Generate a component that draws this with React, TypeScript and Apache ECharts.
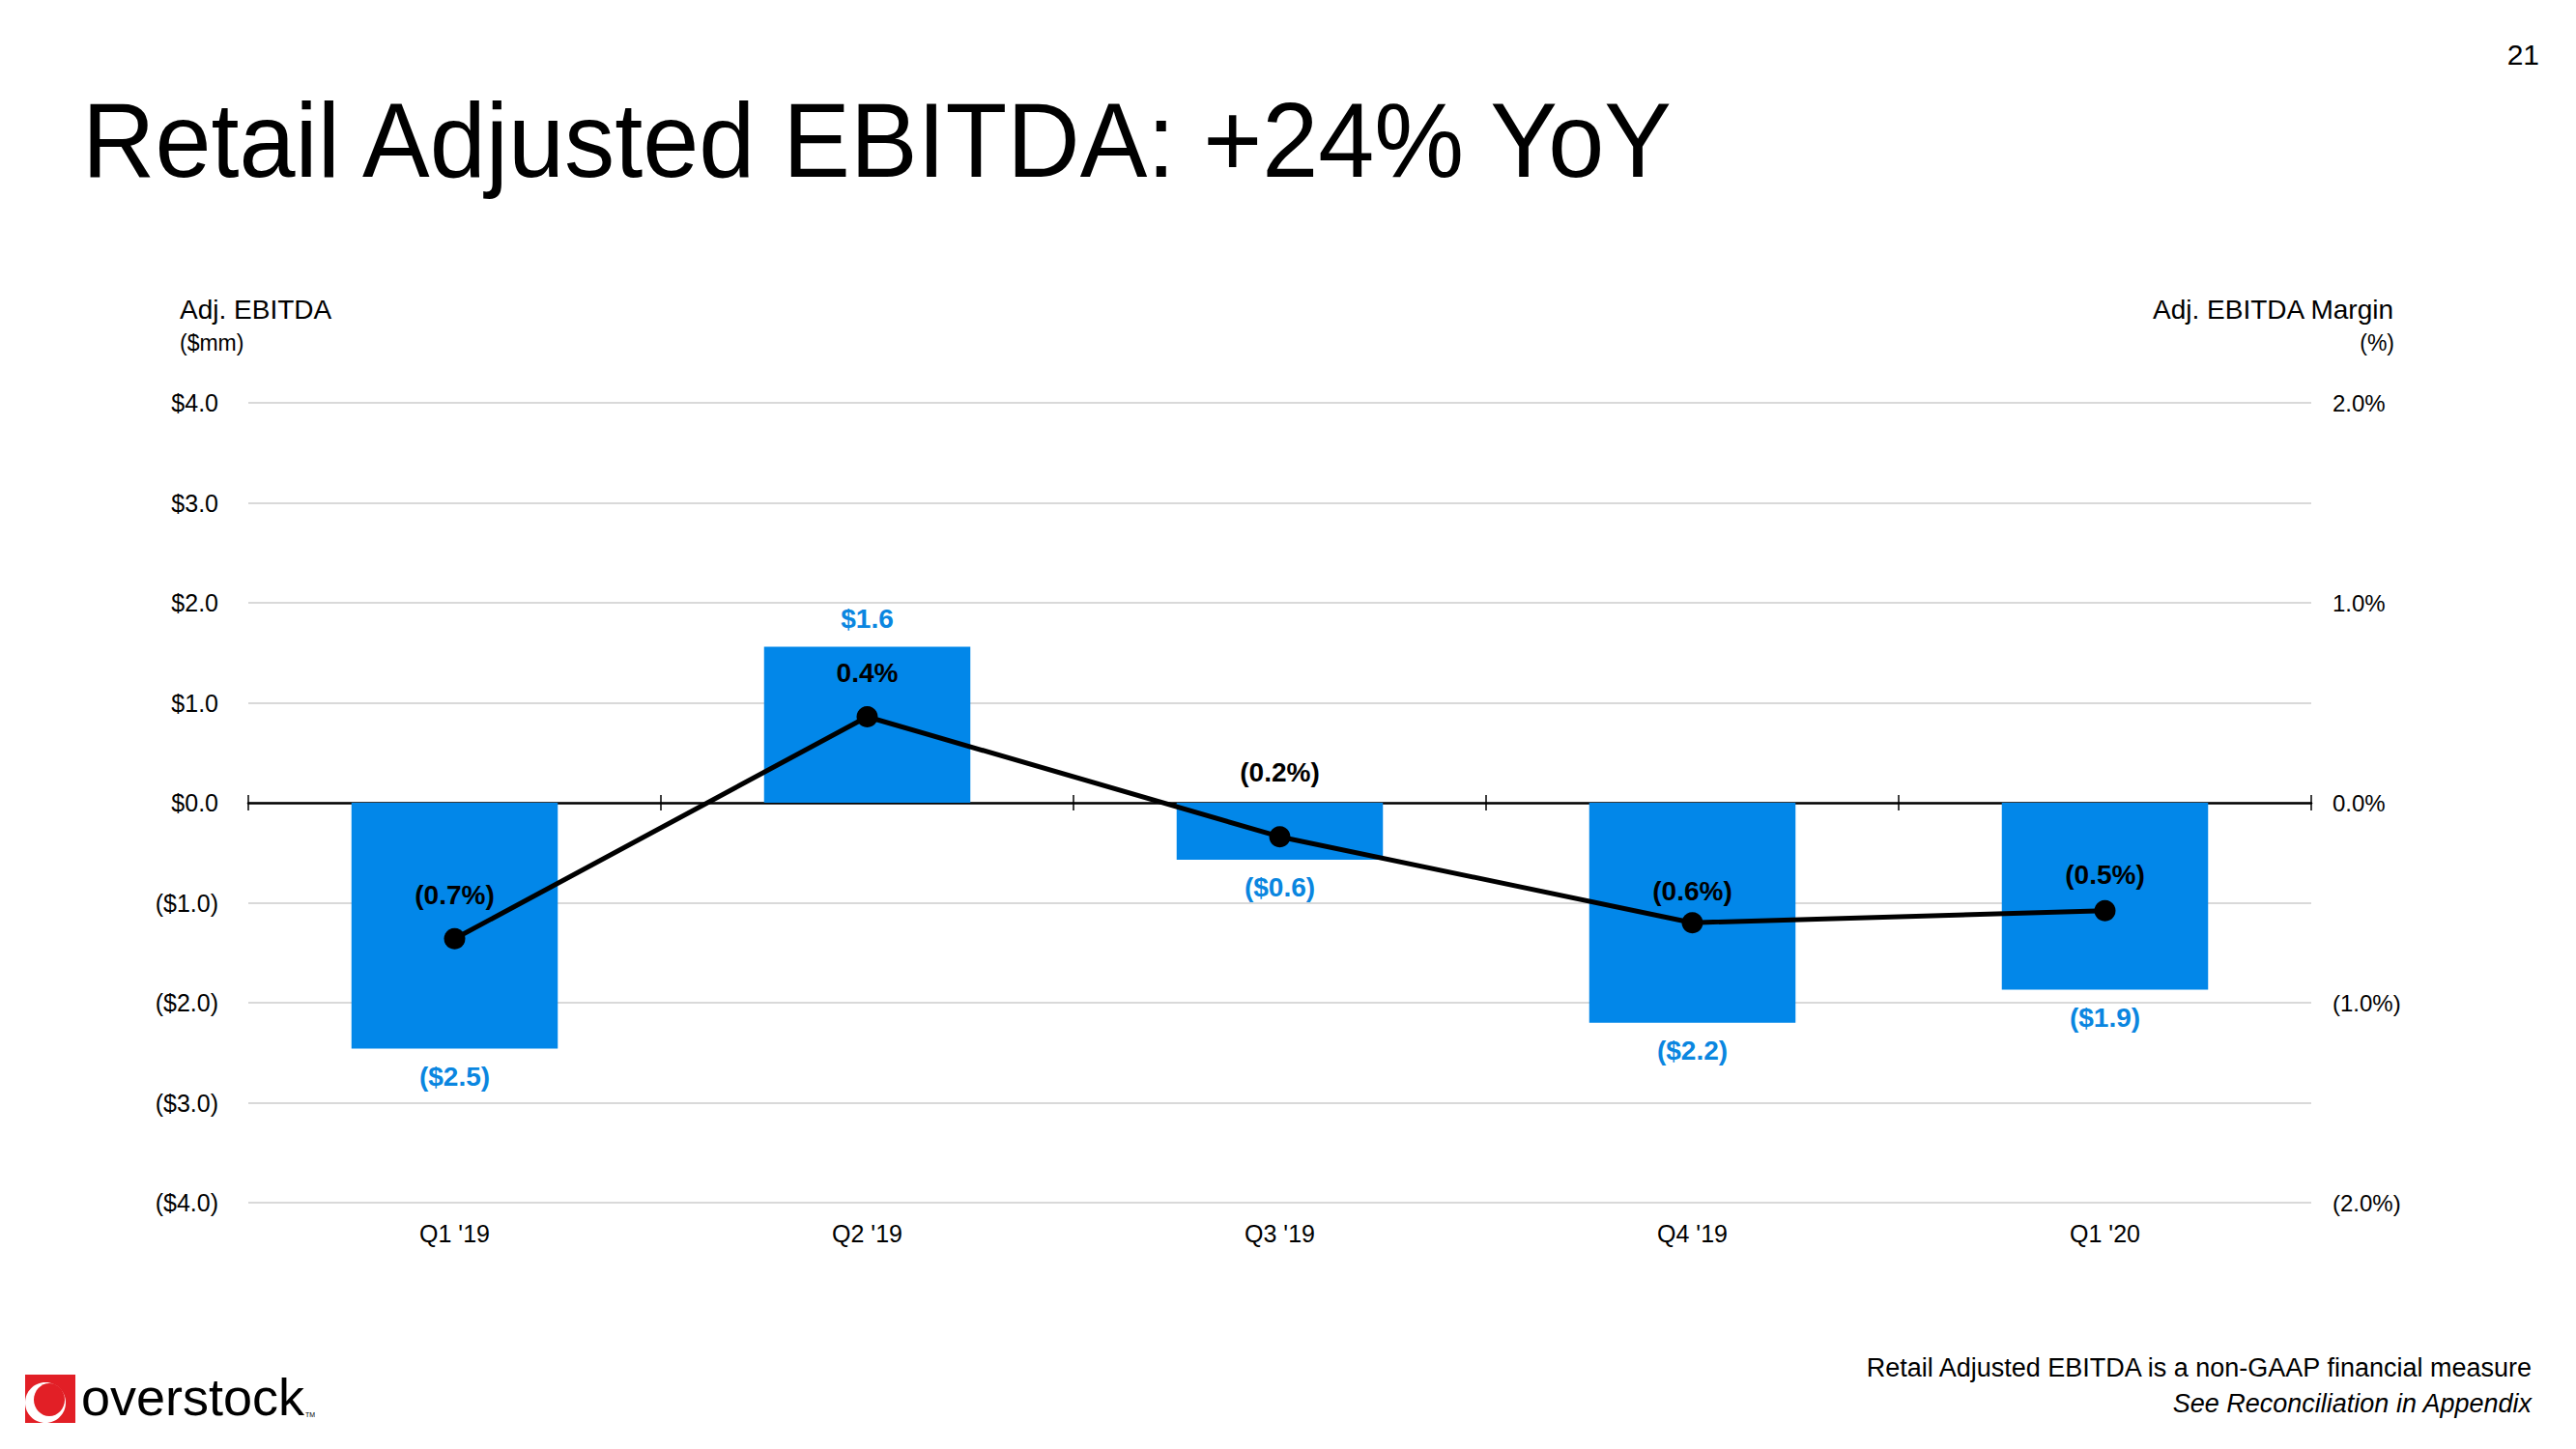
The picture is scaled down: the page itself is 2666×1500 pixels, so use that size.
import React, { useEffect, useRef } from "react";
import * as echarts from "echarts";

const categories = ["Q1 '19", "Q2 '19", "Q3 '19", "Q4 '19", "Q1 '20"];
const ebitda = [-2.46, 1.56, -0.57, -2.2, -1.87];
const marginPct = [-0.68, 0.43, -0.17, -0.6, -0.54];
const leftAxis = { min: -4, max: 4, interval: 1 };
const rightAxis = { min: -2, max: 2, interval: 1 };
// label gap above each margin point (styling only)
const marginLabelGap = [20, 20, 42, 8, 12];

const FONT = "Liberation Sans";
const BLUE = "#0287E9";

const fmtDollar = (v: number) =>
  v < 0 ? `($${(-v).toFixed(1)})` : `$${v.toFixed(1)}`;
const fmtPct = (v: number) =>
  v < 0 ? `(${(-v).toFixed(1)}%)` : `${v.toFixed(1)}%`;

export default function App() {
  const ref = useRef<HTMLDivElement>(null);
  useEffect(() => {
    if (!ref.current) return;
    const chart = echarts.init(ref.current, undefined, { renderer: "svg" });
    const option: any = {
      animation: false,
      backgroundColor: "#ffffff",
      textStyle: { fontFamily: FONT },
      grid: { left: 257, right: 274, top: 417, bottom: 255, containLabel: false, outerBoundsMode: "none" },
      xAxis: [
        {
          type: "category",
          data: categories,
          position: "bottom",
          axisLine: { onZero: true, lineStyle: { color: "#000", width: 2.5 } },
          axisTick: { show: true, length: 8, lineStyle: { color: "#000", width: 1.5 } },
          axisLabel: { margin: 19, fontSize: 25, color: "#000", fontFamily: FONT },
        },
        {
          type: "category",
          data: categories,
          position: "top",
          axisLine: { show: false, onZero: true },
          axisTick: { show: true, length: 8, lineStyle: { color: "#000", width: 1.5 } },
          axisLabel: { show: false },
        },
      ],
      yAxis: [
        {
          type: "value",
          min: leftAxis.min,
          max: leftAxis.max,
          interval: leftAxis.interval,
          axisLine: { show: false },
          axisTick: { show: false },
          splitLine: { lineStyle: { color: "#d9d9d9", width: 2 } },
          axisLabel: { formatter: fmtDollar, margin: 31, fontSize: 25, color: "#000", fontFamily: FONT },
        },
        {
          type: "value",
          position: "right",
          min: rightAxis.min,
          max: rightAxis.max,
          interval: rightAxis.interval,
          axisLine: { show: false },
          axisTick: { show: false },
          splitLine: { show: false },
          axisLabel: { formatter: fmtPct, margin: 22, fontSize: 24, color: "#000", fontFamily: FONT },
        },
      ],
      series: [
        {
          type: "bar",
          xAxisIndex: 0,
          yAxisIndex: 0,
          barWidth: "50%",
          data: ebitda.map((v) => ({ value: v, label: { position: v >= 0 ? "top" : "bottom" } })),
          itemStyle: { color: BLUE },
          label: {
            show: true,
            distance: 15,
            color: "#0A86E0",
            fontSize: 28,
            fontWeight: "bold",
            fontFamily: FONT,
            formatter: (p: any) => fmtDollar(p.value),
          },
          z: 2,
        },
        {
          type: "line",
          xAxisIndex: 0,
          yAxisIndex: 1,
          data: marginPct.map((v, i) => ({ value: v, label: { distance: marginLabelGap[i] } })),
          symbol: "circle",
          symbolSize: 22,
          lineStyle: { color: "#000", width: 5 },
          itemStyle: { color: "#000" },
          label: {
            show: true,
            position: "top",
            distance: 20,
            color: "#000",
            fontSize: 28,
            fontWeight: "bold",
            fontFamily: FONT,
            formatter: (p: any) => fmtPct(p.value),
          },
          z: 5,
        },
      ],
      graphic: [
        {
          type: "text",
          x: 85,
          y: 145,
          scaleX: 0.949,
          style: {
            text: "Retail Adjusted EBITDA: +24% YoY",
            fontFamily: FONT,
            fontSize: 110,
            fill: "#000",
            textAlign: "left",
            textVerticalAlign: "middle",
          },
        },
        {
          type: "text",
          x: 2628,
          y: 56,
          style: { text: "21", fontFamily: FONT, fontSize: 30, fill: "#000", textAlign: "right", textVerticalAlign: "middle" },
        },
        {
          type: "text",
          x: 186,
          y: 320,
          style: { text: "Adj. EBITDA", fontFamily: FONT, fontSize: 28, fill: "#000", textAlign: "left", textVerticalAlign: "middle" },
        },
        {
          type: "text",
          x: 186,
          y: 355,
          style: { text: "($mm)", fontFamily: FONT, fontSize: 23, fill: "#000", textAlign: "left", textVerticalAlign: "middle" },
        },
        {
          type: "text",
          x: 2477,
          y: 320,
          style: { text: "Adj. EBITDA Margin", fontFamily: FONT, fontSize: 28, fill: "#000", textAlign: "right", textVerticalAlign: "middle" },
        },
        {
          type: "text",
          x: 2478,
          y: 355,
          style: { text: "(%)", fontFamily: FONT, fontSize: 23, fill: "#000", textAlign: "right", textVerticalAlign: "middle" },
        },
        {
          type: "text",
          x: 2620,
          y: 1416,
          style: {
            text: "Retail Adjusted EBITDA is a non-GAAP financial measure",
            fontFamily: FONT,
            fontSize: 27,
            fill: "#000",
            textAlign: "right",
            textVerticalAlign: "middle",
          },
        },
        {
          type: "text",
          x: 2620,
          y: 1453,
          style: {
            text: "See Reconciliation in Appendix",
            fontFamily: FONT,
            fontSize: 27,
            fontStyle: "italic",
            fill: "#000",
            textAlign: "right",
            textVerticalAlign: "middle",
          },
        },
        {
          type: "rect",
          shape: { x: 26, y: 1423, width: 52, height: 50 },
          style: { fill: "#E21F26" },
        },
        {
          type: "ellipse",
          shape: { cx: 47, cy: 1452, rx: 21, ry: 21 },
          style: { fill: "#ffffff" },
        },
        {
          type: "ellipse",
          shape: { cx: 51, cy: 1449, rx: 16, ry: 17 },
          style: { fill: "#E21F26" },
        },
        {
          type: "text",
          x: 84,
          y: 1446,
          style: { text: "overstock", fontFamily: FONT, fontSize: 54, fill: "#000", textAlign: "left", textVerticalAlign: "middle" },
        },
        {
          type: "text",
          x: 316,
          y: 1464,
          style: { text: "TM", fontFamily: FONT, fontSize: 7, fill: "#000", textAlign: "left", textVerticalAlign: "middle" },
        },
      ],
    };
    chart.setOption(option);
    return () => chart.dispose();
  }, []);
  return (
    <div
      ref={ref}
      style={{ position: "fixed", left: 0, top: 0, width: 2666, height: 1500, background: "#fff" }}
    />
  );
}
